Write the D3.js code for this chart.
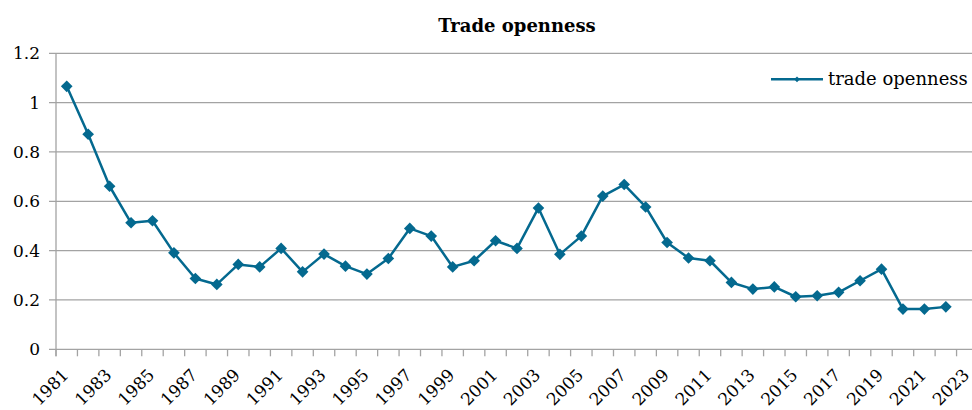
<!DOCTYPE html>
<html>
<head>
<meta charset="utf-8">
<script src="https://cdn.jsdelivr.net/npm/d3@7"></script>
<style>
    body { margin: 0; background: #ffffff; }
    svg text { font-family: 'DejaVu Serif', serif; fill: #000000; }
</style>
</head>
<body>
<svg width="972" height="410"></svg>
<script>
// categories (2023 has a slot on the axis but no value yet)
const years = [1981, 1982, 1983, 1984, 1985, 1986, 1987, 1988, 1989, 1990,
    1991, 1992, 1993, 1994, 1995, 1996, 1997, 1998, 1999, 2000,
    2001, 2002, 2003, 2004, 2005, 2006, 2007, 2008, 2009, 2010,
    2011, 2012, 2013, 2014, 2015, 2016, 2017, 2018, 2019, 2020,
    2021, 2022, 2023];

const tradeOpenness = [1.066, 0.872, 0.661, 0.513, 0.521, 0.391, 0.287, 0.263, 0.344, 0.334,
    0.409, 0.314, 0.386, 0.337, 0.305, 0.368, 0.490, 0.459, 0.334, 0.359,
    0.440, 0.409, 0.573, 0.385, 0.459, 0.621, 0.668, 0.577, 0.433, 0.370,
    0.359, 0.271, 0.244, 0.253, 0.213, 0.217, 0.231, 0.278, 0.325, 0.163,
    0.163, 0.172, null];

const yTicks = [0, 0.2, 0.4, 0.6, 0.8, 1, 1.2];
const chartTitle = 'Trade openness';
const seriesName = 'trade openness';

const lineColor = '#04698f',
    gridColor = '#a3a3a3';

const svg = d3.select('svg'),
    plot = {left: 56, right: 978, top: 53.3, bottom: 349.3};

const x = d3.scaleBand()
    .domain(years)
    .range([plot.left, plot.right])
    .padding(0);

const y = d3.scaleLinear()
    .domain([0, 1.2])
    .range([plot.bottom, plot.top]);

function cx(d) {
    return x(d.year) + x.bandwidth() / 2;
}

const data = years.map(function (yr, i) {
    return {year: yr, value: tradeOpenness[i]};
});

// title
svg.append('text')
    .attr('x', (plot.left + plot.right) / 2)
    .attr('y', 32)
    .attr('text-anchor', 'middle')
    .style('font-size', '18px')
    .style('font-weight', 'bold')
    .text(chartTitle);

// horizontal grid + y tick marks
svg.append('g')
    .selectAll('line')
    .data(yTicks)
    .enter().append('line')
    .attr('x1', plot.left - 7)
    .attr('x2', plot.right)
    .attr('y1', function (d) { return y(d); })
    .attr('y2', function (d) { return y(d); })
    .attr('stroke', gridColor)
    .attr('stroke-width', 1.3);

// y axis line
svg.append('line')
    .attr('x1', plot.left).attr('x2', plot.left)
    .attr('y1', plot.top).attr('y2', plot.bottom + 7)
    .attr('stroke', gridColor)
    .attr('stroke-width', 1.3);

// y labels
svg.append('g')
    .selectAll('text')
    .data(yTicks)
    .enter().append('text')
    .attr('x', 40)
    .attr('y', function (d) { return y(d); })
    .attr('dy', '0.36em')
    .attr('text-anchor', 'end')
    .style('font-size', '17px')
    .text(function (d) { return d; });

// x tick marks on category boundaries
const boundaries = years.map(function (yr) { return x(yr); }).concat([plot.right]);
svg.append('g')
    .selectAll('line')
    .data(boundaries)
    .enter().append('line')
    .attr('x1', function (d) { return d; })
    .attr('x2', function (d) { return d; })
    .attr('y1', plot.bottom)
    .attr('y2', plot.bottom + 7)
    .attr('stroke', gridColor)
    .attr('stroke-width', 1.3);

// x labels, every other year
svg.append('g')
    .selectAll('text')
    .data(data.filter(function (d, i) { return i % 2 === 0; }))
    .enter().append('text')
    .attr('transform', function (d) {
        return 'translate(' + (cx(d) + 3) + ',' + 376 + ') rotate(-45)';
    })
    .attr('text-anchor', 'end')
    .style('font-size', '17px')
    .text(function (d) { return d.year; });

// series line
const line = d3.line()
    .defined(function (d) { return d.value !== null; })
    .x(cx)
    .y(function (d) { return y(d.value); });

svg.append('path')
    .datum(data)
    .attr('fill', 'none')
    .attr('stroke', lineColor)
    .attr('stroke-width', 2.5)
    .attr('stroke-linejoin', 'round')
    .attr('d', line);

const marker = d3.symbol().type(d3.symbolSquare).size(68);

svg.append('g')
    .selectAll('path')
    .data(data.filter(function (d) { return d.value !== null; }))
    .enter().append('path')
    .attr('d', marker)
    .attr('transform', function (d) {
        return 'translate(' + cx(d) + ',' + y(d.value) + ') rotate(45)';
    })
    .attr('fill', lineColor);

// legend
const legend = svg.append('g').attr('transform', 'translate(771,79.3)');
legend.append('line')
    .attr('x1', 0).attr('x2', 52)
    .attr('stroke', lineColor)
    .attr('stroke-width', 2.5);
legend.append('path')
    .attr('d', d3.symbol().type(d3.symbolSquare).size(16))
    .attr('transform', 'translate(26,0) rotate(45)')
    .attr('fill', lineColor);
legend.append('text')
    .attr('x', 57)
    .attr('dy', '0.33em')
    .style('font-size', '18px')
    .text(seriesName);
</script>
</body>
</html>
